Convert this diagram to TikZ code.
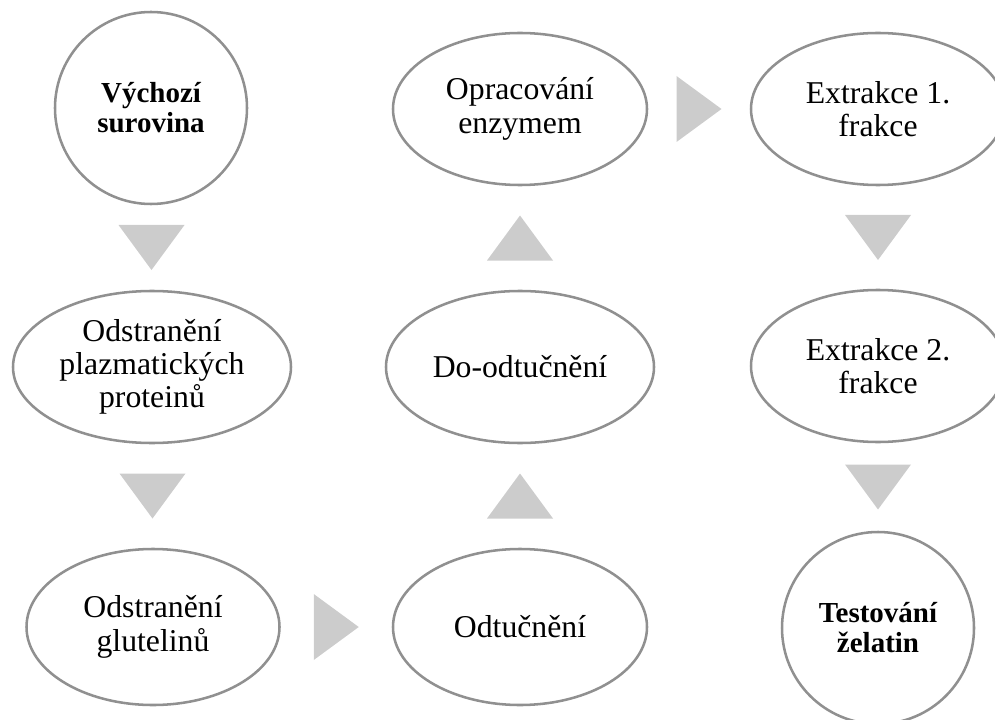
\documentclass[tikz,border=0pt]{standalone}
\usepackage{fontspec}
\setmainfont{Liberation Serif}
\usetikzlibrary{shapes.geometric,calc}

\definecolor{rimgray}{HTML}{909090}
\definecolor{arrowgray}{HTML}{CCCCCC}

\begin{document}
\begin{tikzpicture}[x=0.75pt, y=-0.75pt,
	stage/.style={draw=rimgray, line width=1.9pt, ellipse, inner sep=0pt, align=center, font=\fontsize{23.8}{25}\selectfont},
	endstage/.style={draw=rimgray, line width=1.9pt, circle, inner sep=0pt, minimum size=144pt, align=center, font=\fontsize{21.75}{22.5}\selectfont\bfseries},
	arrowfill/.style={fill=arrowgray}]
	\useasboundingbox (0,0) rectangle (995,720);
	% left column
	\node[endstage] (src) at (151,108) {Výchozí\\surovina};
	\node[stage, minimum width=208.5pt, minimum height=114pt] (plasma) at (152,367) {Odstranění\\plazmatických\\proteinů};
	\node[stage, minimum width=189.75pt, minimum height=117pt] (glut) at (153,627) {Odstranění\\glutelinů};
	% middle column
	\node[stage, minimum width=190.5pt, minimum height=117pt] (defat) at (520,627) {Odtučnění};
	\node[stage, minimum width=201pt, minimum height=114pt] (redefat) at (520,367) {Do-odtučnění};
	\node[stage, minimum width=190.5pt, minimum height=114pt] (enzyme) at (520,109) {Opracování\\enzymem};
	% right column
	\node[stage, minimum width=190.5pt, minimum height=114pt] (ext1) at (878,109) {Extrakce 1.\\frakce};
	\node[stage, minimum width=190.5pt, minimum height=114pt] (ext2) at (878,366) {Extrakce 2.\\frakce};
	\node[endstage] (test) at (878,628) {Testování\\želatin};
	% triangles between the stages
	\fill[arrowfill] ($(src.south)!.5!(plasma.north)$) ++(-33,-22.5) -- ++(66,0) -- ++(-33,45) -- cycle;
	\fill[arrowfill] ($(plasma.south)!.5!(glut.north)$) ++(-33,-22.5) -- ++(66,0) -- ++(-33,45) -- cycle;
	\fill[arrowfill] ($(glut.east)!.5!(defat.west)$) ++(-22.5,-33) -- ++(0,66) -- ++(45,-33) -- cycle;
	\fill[arrowfill] ($(defat.north)!.5!(redefat.south)$) ++(-33,22.5) -- ++(66,0) -- ++(-33,-45) -- cycle;
	\fill[arrowfill] ($(redefat.north)!.5!(enzyme.south)$) ++(-33,22.5) -- ++(66,0) -- ++(-33,-45) -- cycle;
	\fill[arrowfill] ($(enzyme.east)!.5!(ext1.west)$) ++(-22.5,-33) -- ++(0,66) -- ++(45,-33) -- cycle;
	\fill[arrowfill] ($(ext1.south)!.5!(ext2.north)$) ++(-33,-22.5) -- ++(66,0) -- ++(-33,45) -- cycle;
	\fill[arrowfill] ($(ext2.south)!.5!(test.north)$) ++(-33,-22.5) -- ++(66,0) -- ++(-33,45) -- cycle;
\end{tikzpicture}
\end{document}
